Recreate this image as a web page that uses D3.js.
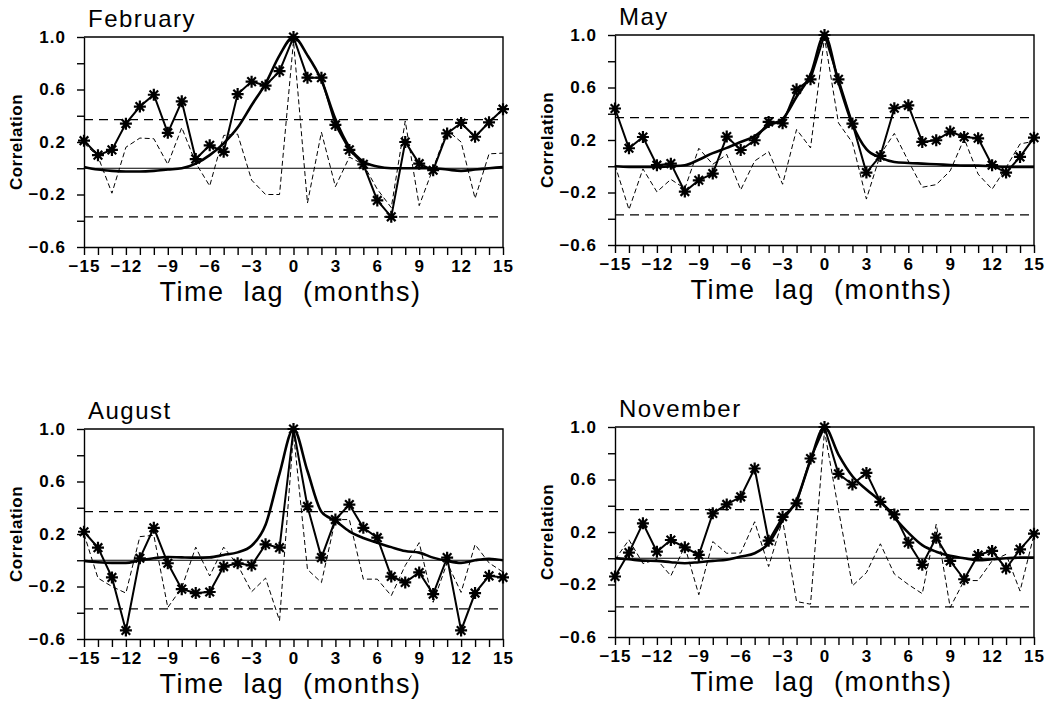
<!DOCTYPE html>
<html>
<head>
<meta charset="utf-8">
<script src="https://cdn.jsdelivr.net/npm/d3@7"></script>
<style>
  body { margin: 0; background: #fff; }
  svg { display: block; }
  .tick text { font-family: "Liberation Sans", Arial, sans-serif; font-weight: bold; font-size: 17px; letter-spacing: 1px; fill: #000; }
  .tick line, .domain { stroke: #000; stroke-width: 1.4; }
</style>
</head>
<body>
<svg id="chart" width="1056" height="702"></svg>
<script>
'use strict';

// lags in months, -15 .. 15
var lags = d3.range(-15, 16);
var xTickLabels = [-15, -12, -9, -6, -3, 0, 3, 6, 9, 12, 15];
var yTicks = [-0.6, -0.4, -0.2, 0, 0.2, 0.4, 0.6, 0.8, 1.0];
var yTickLabels = [-0.6, -0.2, 0.2, 0.6, 1.0];
var sigLevel = 0.37;

var months = ['February', 'May', 'August', 'November'];

// starred curve
var febObs = [0.21, 0.10, 0.14, 0.34, 0.47, 0.56, 0.27, 0.51, 0.07, 0.175, 0.125, 0.565, 0.66, 0.63, 0.74,
  1.0, 0.69, 0.69, 0.33, 0.14, 0.03, -0.245, -0.37, 0.20, 0.035, -0.015, 0.265, 0.345, 0.24, 0.35, 0.45];
var mayObs = [0.44, 0.137, 0.223, 0.008, 0.02, -0.193, -0.107, -0.056, 0.226, 0.124, 0.198, 0.338, 0.327, 0.586, 0.662,
  1.0, 0.662, 0.325, -0.048, 0.079, 0.442, 0.464, 0.185, 0.198, 0.264, 0.223, 0.213, 0.008, -0.048, 0.071, 0.218];
var augObs = [0.217, 0.096, -0.131, -0.535, 0.015, 0.247, -0.023, -0.22, -0.25, -0.242, -0.048, -0.023, -0.04, 0.121, 0.096,
  1.0, 0.41, 0.02, 0.31, 0.424, 0.247, 0.172, -0.124, -0.169, -0.093, -0.258, 0.02, -0.535, -0.25, -0.119, -0.131];
var novObs = [-0.139, 0.043, 0.266, 0.05, 0.139, 0.083, 0.025, 0.342, 0.41, 0.468, 0.684, 0.134, 0.316, 0.418, 0.76,
  1.0, 0.643, 0.562, 0.65, 0.43, 0.334, 0.119, -0.05, 0.157, -0.02, -0.16, 0.025, 0.056, -0.078, 0.068, 0.187];

// thick smooth curve
var febFit = [0.01, -0.01, -0.02, -0.025, -0.025, -0.02, -0.01, 0.0, 0.035, 0.10, 0.19, 0.31, 0.48, 0.645, 0.86,
  1.0, 0.86, 0.67, 0.375, 0.16, 0.05, 0.013, 0.0, 0.0, 0.0, 0.0, -0.01, -0.02, -0.01, 0.0, 0.01];
var mayFit = [0.0, -0.005, -0.005, -0.005, 0.0, 0.008, 0.05, 0.10, 0.14, 0.185, 0.23, 0.31, 0.36, 0.53, 0.70,
  1.0, 0.64, 0.32, 0.13, 0.066, 0.033, 0.025, 0.02, 0.015, 0.01, 0.005, 0.005, 0.0, -0.005, -0.005, -0.005];
var augFit = [-0.005, -0.015, -0.02, -0.02, 0.0, 0.015, 0.025, 0.022, 0.02, 0.022, 0.04, 0.06, 0.11, 0.27, 0.66,
  1.0, 0.68, 0.37, 0.30, 0.22, 0.17, 0.134, 0.10, 0.07, 0.058, 0.02, -0.005, -0.02, 0.0, 0.012, 0.0];
var novFit = [0.0, -0.008, -0.018, -0.02, -0.03, -0.038, -0.03, -0.02, -0.012, 0.013, 0.038, 0.114, 0.29, 0.443, 0.747,
  1.0, 0.79, 0.625, 0.524, 0.435, 0.31, 0.195, 0.10, 0.05, 0.018, 0.0, -0.015, -0.008, 0.0, 0.005, 0.005];

// thin dashed curve
var febResid = [0.19, 0.09, -0.19, 0.16, 0.23, 0.225, 0.03, 0.31, 0.04, -0.135, 0.25, 0.26, -0.09, -0.20, -0.20,
  0.97, -0.265, 0.275, -0.14, 0.085, 0.03, -0.16, -0.30, 0.36, -0.285, 0.0, 0.29, 0.20, -0.23, 0.11, 0.115];
var mayResid = [0.01, -0.33, -0.02, -0.195, -0.10, -0.17, 0.137, 0.015, 0.09, -0.18, 0.04, 0.112, -0.137, 0.28, 0.14,
  0.98, 0.33, 0.18, -0.25, 0.09, 0.25, 0.04, -0.16, -0.14, -0.035, 0.21, -0.06, -0.175, -0.01, 0.17, 0.19];
var augResid = [0.2, -0.136, -0.2, -0.25, 0.18, 0.19, -0.36, -0.21, 0.1, -0.12, 0.1, -0.035, -0.24, -0.136, -0.46,
  0.97, -0.07, -0.17, 0.31, 0.31, -0.144, -0.144, -0.27, -0.04, 0.134, -0.32, -0.02, -0.245, 0.12, -0.02, -0.09];
var novResid = [-0.01, 0.14, -0.04, -0.01, -0.134, 0.09, -0.278, 0.127, 0.038, 0.04, 0.278, -0.063, 0.29, -0.33, -0.35,
  0.97, 0.37, -0.21, -0.11, 0.11, -0.12, -0.2, -0.27, 0.26, -0.375, -0.17, -0.17, -0.02, 0.03, -0.25, 0.18];

var obsSeries = [febObs, mayObs, augObs, novObs];
var fitSeries = [febFit, mayFit, augFit, novFit];
var residSeries = [febResid, mayResid, augResid, novResid];

// panel origins (top-left of the plot box)
var origins = [[84, 37], [615, 35], [84, 429], [615, 427]];
var width = 419;
var height = 210;

var svg = d3.select('#chart');
svg.append('rect').attr('width', 1056).attr('height', 702).attr('fill', '#fff');

var asterisk = 'M-6,0L6,0M0,-6L0,6M-4.3,-4.3L4.3,4.3M-4.3,4.3L4.3,-4.3';
var font = '"Liberation Sans", Arial, sans-serif';

function drawPanel(i) {
  var g = svg.append('g')
    .attr('transform', 'translate(' + origins[i][0] + ',' + origins[i][1] + ')');

  var x = d3.scaleLinear().domain([-15, 15]).range([0, width]);
  var y = d3.scaleLinear().domain([-0.6, 1.0]).range([height, 0]);

  var fmt = d3.format('.1f');

  g.append('g')
    .attr('transform', 'translate(0,' + height + ')')
    .call(d3.axisBottom(x).tickValues(lags).tickSize(8).tickPadding(5).tickSizeOuter(0)
      .tickFormat(function (d) { return xTickLabels.indexOf(d) >= 0 ? d3.format('d')(d) : ''; }));

  g.append('g')
    .call(d3.axisLeft(y).tickValues(yTicks).tickSize(7).tickPadding(11).tickSizeOuter(0)
      .tickFormat(function (d) {
        var hit = yTickLabels.some(function (v) { return Math.abs(v - d) < 1e-6; });
        return hit ? fmt(d) : '';
      }));

  // top and right border
  g.append('path')
    .attr('d', 'M0,0H' + width + 'V' + height)
    .attr('fill', 'none').attr('stroke', '#000').attr('stroke-width', 1.4);

  // zero line
  g.append('line')
    .attr('x1', 0).attr('x2', width)
    .attr('y1', y(0)).attr('y2', y(0))
    .attr('stroke', '#000').attr('stroke-width', 1);

  // significance levels
  [sigLevel, -sigLevel].forEach(function (s) {
    g.append('line')
      .attr('x1', 0).attr('x2', width - 4)
      .attr('y1', y(s)).attr('y2', y(s))
      .attr('stroke', '#000').attr('stroke-width', 1.2)
      .attr('stroke-dasharray', '9,6');
  });

  var line = d3.line()
    .x(function (d, k) { return x(lags[k]); })
    .y(function (d) { return y(d); });

  g.append('path')
    .datum(residSeries[i])
    .attr('d', line)
    .attr('fill', 'none').attr('stroke', '#000').attr('stroke-width', 1)
    .attr('stroke-dasharray', '5,3');

  g.append('path')
    .datum(fitSeries[i])
    .attr('d', line.curve(d3.curveMonotoneX))
    .attr('fill', 'none').attr('stroke', '#000').attr('stroke-width', 2.6);

  line.curve(d3.curveLinear);

  g.append('path')
    .datum(obsSeries[i])
    .attr('d', line)
    .attr('fill', 'none').attr('stroke', '#000').attr('stroke-width', 2);

  g.selectAll('.star')
    .data(obsSeries[i])
    .enter().append('path')
    .attr('class', 'star')
    .attr('transform', function (d, k) { return 'translate(' + x(lags[k]) + ',' + y(d) + ')'; })
    .attr('d', asterisk)
    .attr('stroke', '#000').attr('stroke-width', 2.2).attr('fill', 'none');

  // titles and labels
  g.append('text')
    .attr('x', 4).attr('y', -10)
    .style('font-family', font)
    .style('font-size', '24px')
    .style('letter-spacing', '1.5px')
    .text(months[i]);

  g.append('text')
    .attr('transform', 'translate(-62,' + (height / 2) + ') rotate(-90)')
    .attr('text-anchor', 'middle')
    .style('font-family', font)
    .style('font-size', '17px')
    .style('font-weight', 'bold')
    .style('letter-spacing', '0.5px')
    .text('Correlation');

  g.append('text')
    .attr('x', width / 2 - 3).attr('y', height + 54)
    .attr('text-anchor', 'middle')
    .style('font-family', font)
    .style('font-size', '27px')
    .style('letter-spacing', '1.5px')
    .style('word-spacing', '10px')
    .text('Time lag (months)');
}

months.forEach(function (m, i) { drawPanel(i); });
</script>
</body>
</html>
